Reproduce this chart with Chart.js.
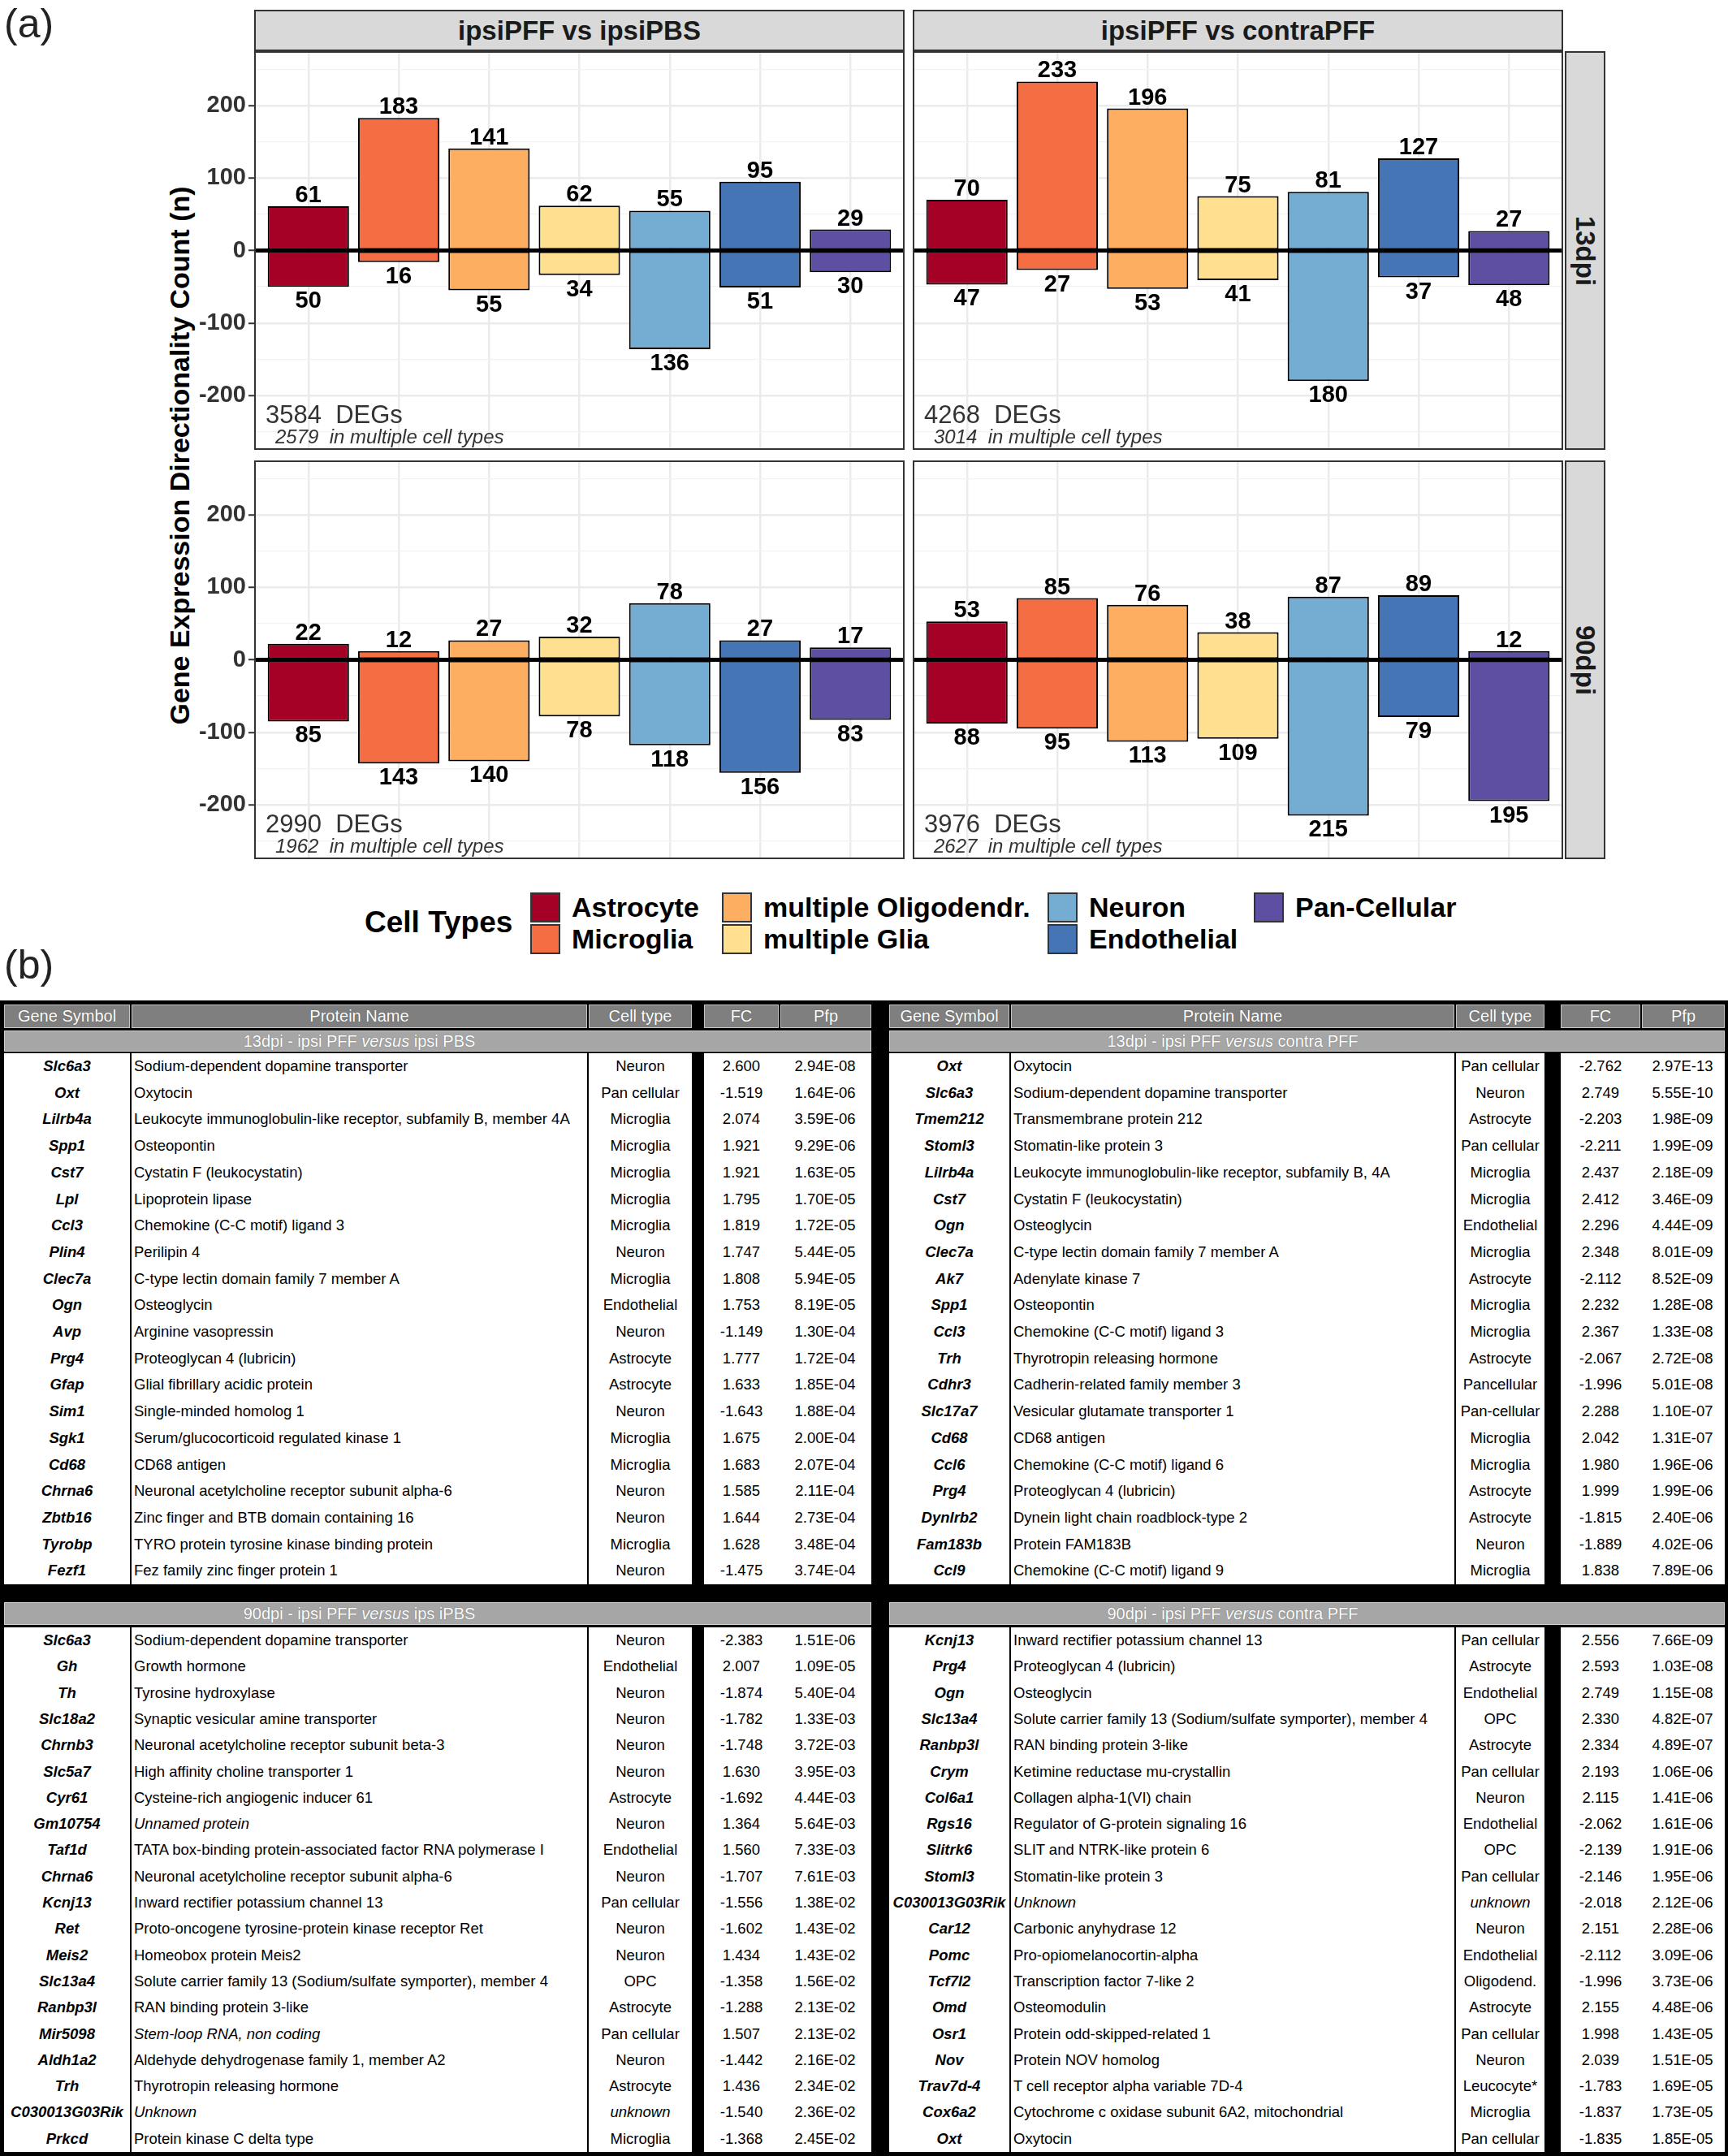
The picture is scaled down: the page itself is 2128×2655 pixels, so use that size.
<!DOCTYPE html>
<html lang="en">
<head>
<meta charset="UTF-8">
<title>Gene expression directionality by cell type</title>
<script src="https://cdn.jsdelivr.net/npm/chart.js@4.4.1/dist/chart.umd.min.js"></script>
<style>
  html, body { margin: 0; padding: 0; background: #fff; }
  #fig { position: relative; width: 2128px; height: 2655px; overflow: hidden;
         font-family: "Liberation Sans", Arial, Helvetica, sans-serif; color: #000; }
  #fig div, #fig canvas { position: absolute; box-sizing: border-box; }
  .tag { font-size: 50px; line-height: 1; color: #222; }
  .strip { background: #d9d9d9; border: 2px solid #333; font-weight: bold; font-size: 33px;
           color: #1a1a1a; display: flex; align-items: center; justify-content: center; }
  .strip span { white-space: nowrap; }
  .vert span { transform: rotate(90deg); }
  #ytitle { font-weight: bold; font-size: 34px; white-space: nowrap; line-height: 1;
            transform: translate(-50%, -50%) rotate(-90deg); }
  .legTitle { font-weight: bold; font-size: 37px; white-space: nowrap; line-height: 42px; }
  .legKey { border: 2px solid #333; }
  .legText { font-weight: bold; font-size: 34px; line-height: 37px; white-space: nowrap; }
  .hcell { background: #7f7f7f; box-shadow: inset 0 0 0 1px #c4c4c4; color: #fff; font-size: 20px;
           text-align: center; white-space: nowrap; text-shadow: 0 0 1px #444; }
  .sub { background: #a6a6a6; box-shadow: inset 0 0 0 1px #d0d0d0; }
  .subText { color: #fff; font-size: 20px; text-align: center; white-space: nowrap; text-shadow: 0 0 1px #555; }
  .white { background: #fff; }
  .cell { font-size: 18.5px; white-space: nowrap; overflow: hidden; }
  .gene { font-weight: bold; font-style: italic; text-align: center; }
  .prot { text-align: left; padding-left: 3px; }
  .ctr { text-align: center; }
</style>
</head>
<body>
<div id="fig"></div>
<script>
// ---- data: bar chart (a) ----
const cellTypes = ['Astrocyte', 'Microglia', 'multiple Oligodendr.', 'multiple Glia', 'Neuron', 'Endothelial', 'Pan-Cellular'];
const cellColors = ['#a50026', '#f46d43', '#fdae61', '#fee090', '#74add1', '#4575b4', '#5e4fa2'];
const comparisons = ['ipsiPFF vs ipsiPBS', 'ipsiPFF vs contraPFF'];
const timepoints = ['13dpi', '90dpi'];

const up13Pbs = [61, 183, 141, 62, 55, 95, 29];
const down13Pbs = [50, 16, 55, 34, 136, 51, 30];
const up13Contra = [70, 233, 196, 75, 81, 127, 27];
const down13Contra = [47, 27, 53, 41, 180, 37, 48];
const up90Pbs = [22, 12, 27, 32, 78, 27, 17];
const down90Pbs = [85, 143, 140, 78, 118, 156, 83];
const up90Contra = [53, 85, 76, 38, 87, 89, 12];
const down90Contra = [88, 95, 113, 109, 215, 79, 195];

const degTotals = [3584, 4268, 2990, 3976];
const degMultiple = [2579, 3014, 1962, 2627];
const yTicks = [-250, -200, -150, -100, -50, 0, 50, 100, 150, 200, 250];

// ---- data: table (b) ----
const tableHeaders = ['Gene Symbol', 'Protein Name', 'Cell type', 'FC', 'Pfp'];
const tableTitles = [
  '13dpi - ipsi PFF versus  ipsi PBS', '13dpi - ipsi PFF versus  contra PFF',
  '90dpi - ipsi PFF versus  ips iPBS', '90dpi - ipsi PFF versus  contra PFF'
];
const italicEntries = ['Unnamed protein', 'Stem-loop RNA, non coding', 'Unknown', 'unknown'];

const rows13Pbs = [
  ['Slc6a3', 'Sodium-dependent dopamine transporter', 'Neuron', '2.600', '2.94E-08'],
  ['Oxt', 'Oxytocin', 'Pan cellular', '-1.519', '1.64E-06'],
  ['Lilrb4a', 'Leukocyte immunoglobulin-like receptor, subfamily B, member 4A', 'Microglia', '2.074', '3.59E-06'],
  ['Spp1', 'Osteopontin', 'Microglia', '1.921', '9.29E-06'],
  ['Cst7', 'Cystatin F (leukocystatin)', 'Microglia', '1.921', '1.63E-05'],
  ['Lpl', 'Lipoprotein lipase', 'Microglia', '1.795', '1.70E-05'],
  ['Ccl3', 'Chemokine (C-C motif) ligand 3', 'Microglia', '1.819', '1.72E-05'],
  ['Plin4', 'Perilipin 4', 'Neuron', '1.747', '5.44E-05'],
  ['Clec7a', 'C-type lectin domain family 7 member A', 'Microglia', '1.808', '5.94E-05'],
  ['Ogn', 'Osteoglycin', 'Endothelial', '1.753', '8.19E-05'],
  ['Avp', 'Arginine vasopressin', 'Neuron', '-1.149', '1.30E-04'],
  ['Prg4', 'Proteoglycan 4 (lubricin)', 'Astrocyte', '1.777', '1.72E-04'],
  ['Gfap', 'Glial fibrillary acidic protein', 'Astrocyte', '1.633', '1.85E-04'],
  ['Sim1', 'Single-minded homolog 1', 'Neuron', '-1.643', '1.88E-04'],
  ['Sgk1', 'Serum/glucocorticoid regulated kinase 1', 'Microglia', '1.675', '2.00E-04'],
  ['Cd68', 'CD68 antigen', 'Microglia', '1.683', '2.07E-04'],
  ['Chrna6', 'Neuronal acetylcholine receptor subunit alpha-6', 'Neuron', '1.585', '2.11E-04'],
  ['Zbtb16', 'Zinc finger and BTB domain containing 16', 'Neuron', '1.644', '2.73E-04'],
  ['Tyrobp', 'TYRO protein tyrosine kinase binding protein', 'Microglia', '1.628', '3.48E-04'],
  ['Fezf1', 'Fez family zinc finger protein 1', 'Neuron', '-1.475', '3.74E-04']
];
const rows13Contra = [
  ['Oxt', 'Oxytocin', 'Pan cellular', '-2.762', '2.97E-13'],
  ['Slc6a3', 'Sodium-dependent dopamine transporter', 'Neuron', '2.749', '5.55E-10'],
  ['Tmem212', 'Transmembrane protein 212', 'Astrocyte', '-2.203', '1.98E-09'],
  ['Stoml3', 'Stomatin-like protein 3', 'Pan cellular', '-2.211', '1.99E-09'],
  ['Lilrb4a', 'Leukocyte immunoglobulin-like receptor, subfamily B, 4A', 'Microglia', '2.437', '2.18E-09'],
  ['Cst7', 'Cystatin F (leukocystatin)', 'Microglia', '2.412', '3.46E-09'],
  ['Ogn', 'Osteoglycin', 'Endothelial', '2.296', '4.44E-09'],
  ['Clec7a', 'C-type lectin domain family 7 member A', 'Microglia', '2.348', '8.01E-09'],
  ['Ak7', 'Adenylate kinase 7', 'Astrocyte', '-2.112', '8.52E-09'],
  ['Spp1', 'Osteopontin', 'Microglia', '2.232', '1.28E-08'],
  ['Ccl3', 'Chemokine (C-C motif) ligand 3', 'Microglia', '2.367', '1.33E-08'],
  ['Trh', 'Thyrotropin releasing hormone', 'Astrocyte', '-2.067', '2.72E-08'],
  ['Cdhr3', 'Cadherin-related family member 3', 'Pancellular', '-1.996', '5.01E-08'],
  ['Slc17a7', 'Vesicular glutamate transporter 1', 'Pan-cellular', '2.288', '1.10E-07'],
  ['Cd68', 'CD68 antigen', 'Microglia', '2.042', '1.31E-07'],
  ['Ccl6', 'Chemokine (C-C motif) ligand 6', 'Microglia', '1.980', '1.96E-06'],
  ['Prg4', 'Proteoglycan 4 (lubricin)', 'Astrocyte', '1.999', '1.99E-06'],
  ['Dynlrb2', 'Dynein light chain roadblock-type 2', 'Astrocyte', '-1.815', '2.40E-06'],
  ['Fam183b', 'Protein FAM183B', 'Neuron', '-1.889', '4.02E-06'],
  ['Ccl9', 'Chemokine (C-C motif) ligand 9', 'Microglia', '1.838', '7.89E-06']
];
const rows90Pbs = [
  ['Slc6a3', 'Sodium-dependent dopamine transporter', 'Neuron', '-2.383', '1.51E-06'],
  ['Gh', 'Growth hormone', 'Endothelial', '2.007', '1.09E-05'],
  ['Th', 'Tyrosine hydroxylase', 'Neuron', '-1.874', '5.40E-04'],
  ['Slc18a2', 'Synaptic vesicular amine transporter', 'Neuron', '-1.782', '1.33E-03'],
  ['Chrnb3', 'Neuronal acetylcholine receptor subunit beta-3', 'Neuron', '-1.748', '3.72E-03'],
  ['Slc5a7', 'High affinity choline transporter 1', 'Neuron', '1.630', '3.95E-03'],
  ['Cyr61', 'Cysteine-rich angiogenic inducer 61', 'Astrocyte', '-1.692', '4.44E-03'],
  ['Gm10754', 'Unnamed protein', 'Neuron', '1.364', '5.64E-03'],
  ['Taf1d', 'TATA box-binding protein-associated factor RNA polymerase I', 'Endothelial', '1.560', '7.33E-03'],
  ['Chrna6', 'Neuronal acetylcholine receptor subunit alpha-6', 'Neuron', '-1.707', '7.61E-03'],
  ['Kcnj13', 'Inward rectifier potassium channel 13', 'Pan cellular', '-1.556', '1.38E-02'],
  ['Ret', 'Proto-oncogene tyrosine-protein kinase receptor Ret', 'Neuron', '-1.602', '1.43E-02'],
  ['Meis2', 'Homeobox protein Meis2', 'Neuron', '1.434', '1.43E-02'],
  ['Slc13a4', 'Solute carrier family 13 (Sodium/sulfate symporter), member 4', 'OPC', '-1.358', '1.56E-02'],
  ['Ranbp3l', 'RAN binding protein 3-like', 'Astrocyte', '-1.288', '2.13E-02'],
  ['Mir5098', 'Stem-loop RNA, non coding', 'Pan cellular', '1.507', '2.13E-02'],
  ['Aldh1a2', 'Aldehyde dehydrogenase family 1, member A2', 'Neuron', '-1.442', '2.16E-02'],
  ['Trh', 'Thyrotropin releasing hormone', 'Astrocyte', '1.436', '2.34E-02'],
  ['C030013G03Rik', 'Unknown', 'unknown', '-1.540', '2.36E-02'],
  ['Prkcd', 'Protein kinase C delta type', 'Microglia', '-1.368', '2.45E-02']
];
const rows90Contra = [
  ['Kcnj13', 'Inward rectifier potassium channel 13', 'Pan cellular', '2.556', '7.66E-09'],
  ['Prg4', 'Proteoglycan 4 (lubricin)', 'Astrocyte', '2.593', '1.03E-08'],
  ['Ogn', 'Osteoglycin', 'Endothelial', '2.749', '1.15E-08'],
  ['Slc13a4', 'Solute carrier family 13 (Sodium/sulfate symporter), member 4', 'OPC', '2.330', '4.82E-07'],
  ['Ranbp3l', 'RAN binding protein 3-like', 'Astrocyte', '2.334', '4.89E-07'],
  ['Crym', 'Ketimine reductase mu-crystallin', 'Pan cellular', '2.193', '1.06E-06'],
  ['Col6a1', 'Collagen alpha-1(VI) chain', 'Neuron', '2.115', '1.41E-06'],
  ['Rgs16', 'Regulator of G-protein signaling 16', 'Endothelial', '-2.062', '1.61E-06'],
  ['Slitrk6', 'SLIT and NTRK-like protein 6', 'OPC', '-2.139', '1.91E-06'],
  ['Stoml3', 'Stomatin-like protein 3', 'Pan cellular', '-2.146', '1.95E-06'],
  ['C030013G03Rik', 'Unknown', 'unknown', '-2.018', '2.12E-06'],
  ['Car12', 'Carbonic anyhydrase 12', 'Neuron', '2.151', '2.28E-06'],
  ['Pomc', 'Pro-opiomelanocortin-alpha', 'Endothelial', '-2.112', '3.09E-06'],
  ['Tcf7l2', 'Transcription factor 7-like 2', 'Oligodend.', '-1.996', '3.73E-06'],
  ['Omd', 'Osteomodulin', 'Astrocyte', '2.155', '4.48E-06'],
  ['Osr1', 'Protein odd-skipped-related 1', 'Pan cellular', '1.998', '1.43E-05'],
  ['Nov', 'Protein NOV homolog', 'Neuron', '2.039', '1.51E-05'],
  ['Trav7d-4', 'T cell receptor alpha variable 7D-4', 'Leucocyte*', '-1.783', '1.69E-05'],
  ['Cox6a2', 'Cytochrome c oxidase subunit 6A2, mitochondrial', 'Microglia', '-1.837', '1.73E-05'],
  ['Oxt', 'Oxytocin', 'Pan cellular', '-1.835', '1.85E-05']
];

// ---- layout ----
const fig = document.getElementById('fig');
const FONT = '"Liberation Sans", Arial, Helvetica, sans-serif';
const plotX = [313, 1124], plotY = [63, 567], plotW = 801, plotH = 491, axisW = 100;

function el(cls, x, y, w, h, html) {
  const d = document.createElement('div');
  if (cls) d.className = cls;
  d.style.left = x + 'px';
  d.style.top = y + 'px';
  if (w != null) d.style.width = w + 'px';
  if (h != null) d.style.height = h + 'px';
  if (html != null) d.innerHTML = html;
  fig.appendChild(d);
  return d;
}

el('tag', 5, 4, null, null, '(a)');
el('tag', 5, 1163, null, null, '(b)');

// facet strips
comparisons.forEach((name, c) => el('strip', plotX[c], 12, plotW, 51, '<span>' + name + '</span>'));
timepoints.forEach((name, r) => el('strip vert', 1927, plotY[r], 50, plotH, '<span>' + name + '</span>'));

const yt = el(null, 221, 561, null, null, 'Gene Expression Directionality Count (n)');
yt.id = 'ytitle';

// zero line, value labels, border and DEG notes on each panel
const panelDeco = {
  id: 'panelDeco',
  afterDatasetsDraw(chart, args, o) {
    const { ctx, chartArea: a, scales: { y } } = chart;
    const y0 = y.getPixelForValue(0);
    ctx.save();
    ctx.beginPath();
    ctx.moveTo(a.left, y0);
    ctx.lineTo(a.right, y0);
    ctx.lineWidth = 5;
    ctx.strokeStyle = '#000';
    ctx.stroke();

    ctx.fillStyle = '#000';
    ctx.font = 'bold 29px ' + FONT;
    ctx.textAlign = 'center';
    ctx.textBaseline = 'alphabetic';
    const upSet = chart.data.datasets[0].data, downSet = chart.data.datasets[1].data;
    chart.getDatasetMeta(0).data.forEach((bar, i) => ctx.fillText(String(upSet[i].y), bar.x, bar.y - 5));
    chart.getDatasetMeta(1).data.forEach((bar, i) => ctx.fillText(String(-downSet[i].y), bar.x, bar.y + 26));

    ctx.lineWidth = 2;
    ctx.strokeStyle = '#333';
    ctx.strokeRect(a.left + 1, a.top + 1, a.width - 2, a.height - 2);

    ctx.fillStyle = '#333';
    ctx.textAlign = 'left';
    ctx.font = '31px ' + FONT;
    ctx.fillText(o.total + '  DEGs', a.left + 14, a.bottom - 33);
    ctx.font = 'italic 24px ' + FONT;
    ctx.fillText(o.multiple + '  in multiple cell types', a.left + 26, a.bottom - 8);
    ctx.restore();
  }
};

const panelData = [[up13Pbs, down13Pbs], [up13Contra, down13Contra], [up90Pbs, down90Pbs], [up90Contra, down90Contra]];
const isMajor = c => c.tick && c.tick.value % 100 === 0;

panelData.forEach(([up, down], k) => {
  const r = Math.floor(k / 2), c = k % 2;
  const withAxis = c === 0;
  const w = plotW + (withAxis ? axisW : 0);
  const cv = document.createElement('canvas');
  cv.width = w;
  cv.height = plotH;
  cv.style.left = (plotX[c] - (withAxis ? axisW : 0)) + 'px';
  cv.style.top = plotY[r] + 'px';
  cv.style.width = w + 'px';
  cv.style.height = plotH + 'px';
  fig.appendChild(cv);

  const barStyle = {
    backgroundColor: cellColors, borderColor: '#000', borderWidth: 2, borderSkipped: false,
    barPercentage: 0.9, categoryPercentage: 1
  };

  new Chart(cv, {
    type: 'bar',
    data: {
      labels: cellTypes,
      datasets: [
        Object.assign({ label: 'Up', data: up.map((v, i) => ({ x: i, y: v })) }, barStyle),
        Object.assign({ label: 'Down', data: down.map((v, i) => ({ x: i, y: -v })) }, barStyle)
      ]
    },
    options: {
      responsive: false,
      animation: false,
      devicePixelRatio: 1,
      layout: { padding: 0 },
      plugins: {
        legend: { display: false },
        tooltip: { enabled: false },
        panelDeco: { total: degTotals[k], multiple: degMultiple[k] }
      },
      scales: {
        x: {
          type: 'linear', min: -0.6, max: 6.6, offset: false, stacked: true,
          afterBuildTicks: s => { s.ticks = cellTypes.map((_, i) => ({ value: i })); },
          afterFit: s => { s.height = 0; s.paddingLeft = 0; s.paddingRight = 0; },
          ticks: { display: false },
          grid: { color: '#ebebeb', lineWidth: 2.5, drawTicks: false, offset: false },
          border: { display: false }
        },
        y: {
          min: -275, max: 275, stacked: true,
          afterBuildTicks: s => { s.ticks = yTicks.map(v => ({ value: v })); },
          afterFit: s => { s.width = withAxis ? axisW : 0; s.paddingTop = 0; s.paddingBottom = 0; },
          ticks: {
            display: withAxis, autoSkip: false, padding: 3, color: '#333',
            font: { family: FONT, size: 29, weight: 'bold' },
            callback: v => (v % 100 === 0 ? String(v) : '')
          },
          grid: {
            color: c => (isMajor(c) ? '#ebebeb' : '#f2f2f2'),
            lineWidth: c => (isMajor(c) ? 2.5 : 1.3),
            drawTicks: withAxis, tickLength: 7, tickWidth: 2,
            tickColor: c => (isMajor(c) ? '#333' : 'rgba(0,0,0,0)')
          },
          border: { display: false }
        }
      }
    },
    plugins: [panelDeco]
  });
});

// legend
const legColX = [653, 889, 1290, 1544], legRowY = [1099, 1138];
el('legTitle', 449, 1115, null, 42, 'Cell Types');
cellTypes.forEach((name, i) => {
  const x = legColX[Math.floor(i / 2)], y = legRowY[i % 2];
  el('legKey', x, y, 37, 37).style.background = cellColors[i];
  el('legText', x + 51, y, null, 37, name);
});

// table (b)
const tblCols = [
  [[5, 160], [162, 723], [725, 852], [867, 959], [959, 1073]],
  [[1095, 1243], [1245, 1791], [1793, 1902], [1922, 2020], [2020, 2124]]
];
const sections = [
  { subY: [1269, 1295], rowTop: 1297, rowH: 32.7 },
  { subY: [1973, 2001], rowTop: 2004, rowH: 32.3 }
];
const tableBlocks = [[rows13Pbs, rows13Contra], [rows90Pbs, rows90Contra]];

el(null, 0, 1232, 2128, 1423).style.background = '#000';

tblCols.forEach(cols => {
  tableHeaders.forEach((h, j) => {
    const x0 = cols[j][0] + (j === 4 ? 2 : 0), x1 = cols[j][1];
    const d = el('hcell', x0, 1237, x1 - x0, 29, h);
    d.style.lineHeight = '29px';
  });
});

tableBlocks.forEach((pair, s) => {
  const sec = sections[s];
  pair.forEach((rows, side) => {
    const cols = tblCols[side];
    const left = cols[0][0], right = cols[4][1];
    el('sub', left, sec.subY[0], right - left, sec.subY[1] - sec.subY[0]);
    const title = tableTitles[s * 2 + side].replace('versus', '<i>versus</i>');
    const st = el('subText', cols[1][0], sec.subY[0], cols[1][1] - cols[1][0], sec.subY[1] - sec.subY[0], title);
    st.style.lineHeight = (sec.subY[1] - sec.subY[0]) + 'px';

    const h = rows.length * sec.rowH;
    [[cols[0][0], cols[0][1]], [cols[1][0], cols[1][1]], [cols[2][0], cols[2][1]], [cols[3][0], cols[4][1]]]
      .forEach(([a, b]) => el('white', a, sec.rowTop, b - a, h));

    rows.forEach((row, i) => {
      const y = sec.rowTop + i * sec.rowH;
      row.forEach((txt, j) => {
        const cls = 'cell ' + (j === 0 ? 'gene' : j === 1 ? 'prot' : 'ctr');
        const d = el(cls, cols[j][0], y, cols[j][1] - cols[j][0], sec.rowH, txt);
        d.style.lineHeight = sec.rowH + 'px';
        if (italicEntries.includes(txt)) d.style.fontStyle = 'italic';
      });
    });
  });
});
</script>
</body>
</html>
